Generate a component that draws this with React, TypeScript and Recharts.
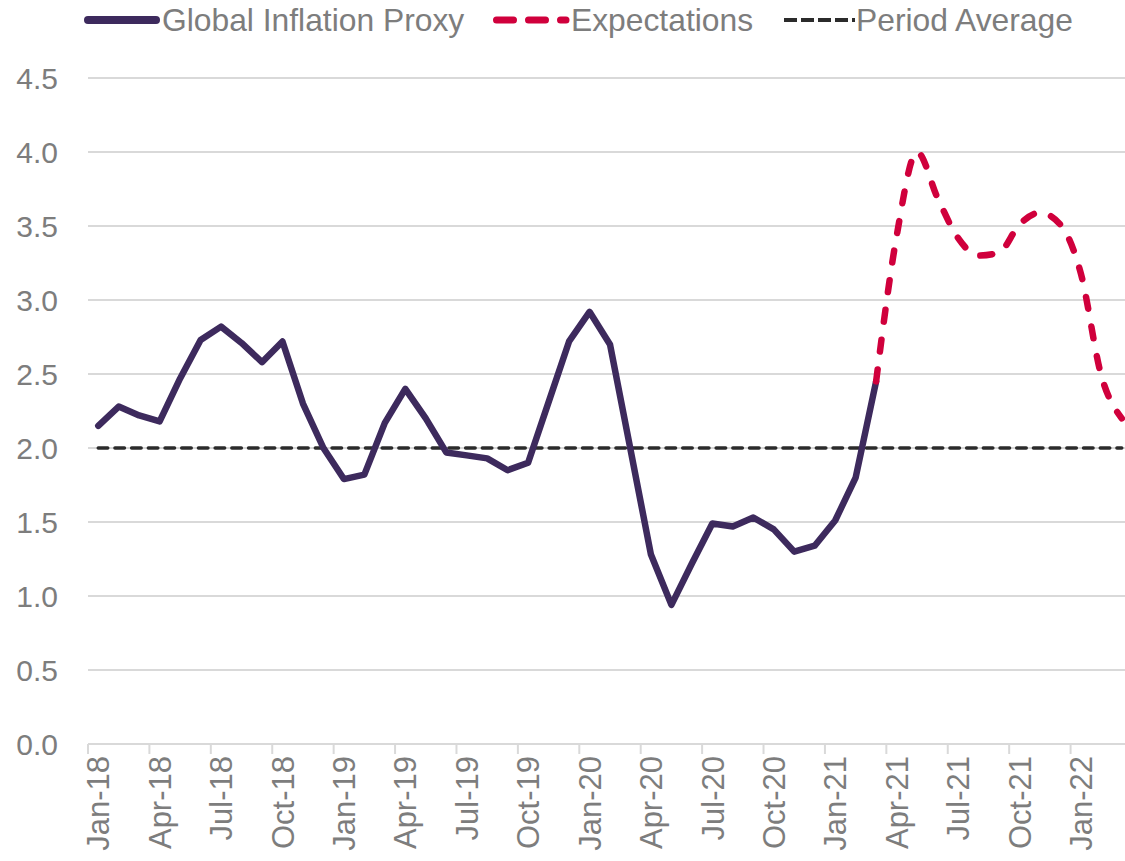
import { CartesianGrid, Legend, Line, LineChart, ReferenceLine, XAxis, YAxis } from 'recharts'

const months = [
  'Jan-18', 'Feb-18', 'Mar-18', 'Apr-18', 'May-18', 'Jun-18', 'Jul-18', 'Aug-18', 'Sep-18', 'Oct-18', 'Nov-18', 'Dec-18',
  'Jan-19', 'Feb-19', 'Mar-19', 'Apr-19', 'May-19', 'Jun-19', 'Jul-19', 'Aug-19', 'Sep-19', 'Oct-19', 'Nov-19', 'Dec-19',
  'Jan-20', 'Feb-20', 'Mar-20', 'Apr-20', 'May-20', 'Jun-20', 'Jul-20', 'Aug-20', 'Sep-20', 'Oct-20', 'Nov-20', 'Dec-20',
  'Jan-21', 'Feb-21', 'Mar-21', 'Apr-21', 'May-21', 'Jun-21', 'Jul-21', 'Aug-21', 'Sep-21', 'Oct-21', 'Nov-21', 'Dec-21',
  'Jan-22', 'Feb-22', 'Mar-22',
]

// Jan-18 .. Mar-21
const inflationProxy = [
  2.15, 2.28, 2.22, 2.18, 2.47, 2.73, 2.82, 2.71, 2.58, 2.72, 2.30, 2.00,
  1.79, 1.82, 2.17, 2.40, 2.20, 1.97, 1.95, 1.93, 1.85, 1.90, 2.31, 2.72,
  2.92, 2.70, 1.99, 1.28, 0.94, 1.22, 1.49, 1.47, 1.53, 1.45, 1.30, 1.34,
  1.51, 1.80, 2.45,
]

// Mar-21 .. Mar-22
const expectationsStart = 'Mar-21'
const expectations = [2.45, 3.43, 4.0, 3.69, 3.42, 3.30, 3.32, 3.51, 3.59, 3.51, 3.18, 2.49, 2.20]

const periodAverage = 2.0
const yTicks = [0, 0.5, 1, 1.5, 2, 2.5, 3, 3.5, 4, 4.5]

const PURPLE = '#3d2a5d'
const RED = '#d0003c'
const DARK = '#2b2b2b'
const GREY_TEXT = '#7d7d7d'
const GRID = '#d9d9d9'
const FONT = '"Liberation Sans", Arial, sans-serif'
const HALF_STEP = 10.24

const startIdx = months.indexOf(expectationsStart)
const data = months.map((m, i) => ({
  month: m,
  inflation: i < inflationProxy.length ? inflationProxy[i] : null,
  expectations: i >= startIdx ? expectations[i - startIdx] : null,
}))

function MonthTick({ x, y, payload }: any) {
  return (
    <g>
      <line x1={x - HALF_STEP} x2={x - HALF_STEP} y1={y} y2={y + 10} stroke={GRID} strokeWidth={2} />
      <text
        transform={`translate(${x},${y + 12}) rotate(-90)`}
        textAnchor="end"
        dy="0.36em"
        fill={GREY_TEXT}
        fontSize={31}
        fontFamily={FONT}
      >
        {payload.value}
      </text>
    </g>
  )
}

const legendText = { position: 'absolute' as const, top: 0, lineHeight: '40px' }
const legendIcon = { position: 'absolute' as const, top: 13 }

function ChartLegend() {
  return (
    <div style={{ position: 'relative', height: 40, width: 1100, fontFamily: FONT, fontSize: 31.8, color: GREY_TEXT, whiteSpace: 'nowrap' }}>
      <svg width={80} height={14} style={{ ...legendIcon, left: 82 }}>
        <line x1={6} x2={74} y1={7} y2={7} stroke={PURPLE} strokeWidth={8} strokeLinecap="round" />
      </svg>
      <span style={{ ...legendText, left: 162 }}>Global Inflation Proxy</span>
      <svg width={80} height={14} style={{ ...legendIcon, left: 490 }}>
        <line x1={6.5} x2={76} y1={7} y2={7} stroke={RED} strokeWidth={7} strokeLinecap="round" strokeDasharray="17 15" />
      </svg>
      <span style={{ ...legendText, left: 571 }}>Expectations</span>
      <svg width={74} height={14} style={{ ...legendIcon, left: 782 }}>
        <line x1={2} x2={73} y1={7} y2={7} stroke={DARK} strokeWidth={4} strokeDasharray="13 4" />
      </svg>
      <span style={{ ...legendText, left: 856 }}>Period Average</span>
    </div>
  )
}

export default function App() {
  return (
    <div style={{ position: 'absolute', top: 0, left: 0, width: 1125, height: 861, overflow: 'hidden', background: '#fff' }}>
      <LineChart width={1135} height={861} data={data} margin={{ top: 78, right: 3, bottom: 0, left: 0 }}>
        <CartesianGrid vertical={false} stroke={GRID} strokeWidth={2} />
        <XAxis
          dataKey="month"
          interval={2}
          height={117}
          padding={{ left: HALF_STEP, right: HALF_STEP }}
          axisLine={{ stroke: GRID, strokeWidth: 2 }}
          tickLine={false}
          tickSize={0}
          tickMargin={0}
          tick={<MonthTick />}
        />
        <YAxis
          domain={[0, 4.5]}
          ticks={yTicks}
          width={88}
          axisLine={false}
          tickLine={false}
          tickMargin={24}
          tickFormatter={(v: number) => v.toFixed(1)}
          tick={{ fill: GREY_TEXT, fontSize: 30, fontFamily: FONT }}
        />
        <Legend verticalAlign="middle" align="center" layout="horizontal" wrapperStyle={{ top: 0, left: 0, width: 1100 }} content={() => <ChartLegend />} />
        <ReferenceLine
          segment={[{ x: months[0], y: periodAverage }, { x: months[months.length - 1], y: periodAverage }]}
          stroke={DARK}
          strokeWidth={3.5}
          strokeDasharray="9.5 7.2"
          strokeLinecap="round"
          ifOverflow="visible"
        />
        <Line
          dataKey="inflation"
          name="Global Inflation Proxy"
          type="linear"
          stroke={PURPLE}
          strokeWidth={6.5}
          strokeLinejoin="round"
          strokeLinecap="round"
          dot={false}
          activeDot={false}
          isAnimationActive={false}
        />
        <Line
          dataKey="expectations"
          name="Expectations"
          type="monotone"
          stroke={RED}
          strokeWidth={6.5}
          strokeDasharray="12 18"
          strokeLinecap="round"
          dot={false}
          activeDot={false}
          isAnimationActive={false}
        />
      </LineChart>
    </div>
  )
}
